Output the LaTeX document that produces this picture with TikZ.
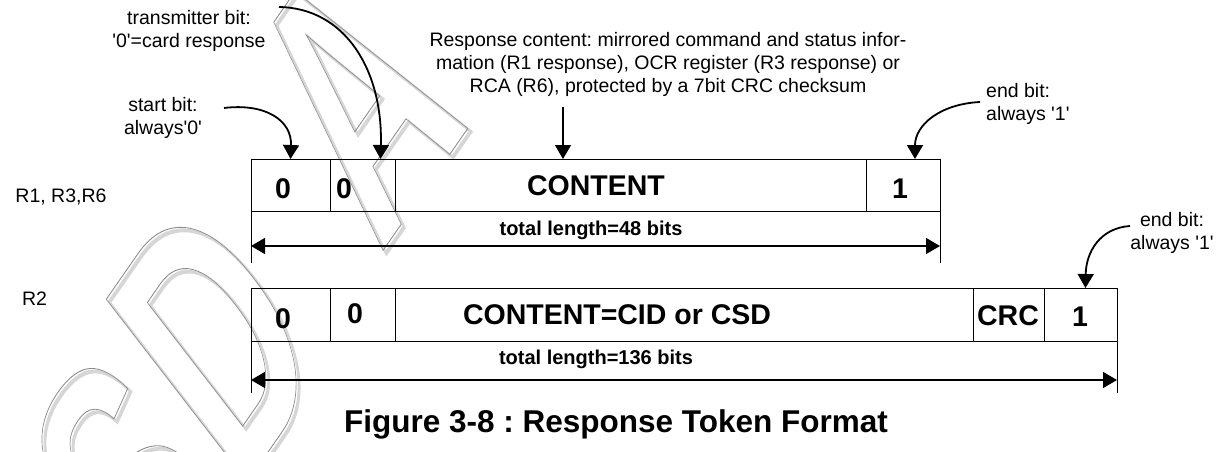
\documentclass[tikz,border=0pt]{standalone}
\usepackage{fontspec}
\setmainfont{Liberation Sans}
\usetikzlibrary{arrows.meta,positioning}
\frenchspacing

% stroked (outline) glyphs for the watermark
\newcommand{\outlined}[2]{\special{pdf:literal direct 1 Tr #1 w}#2\special{pdf:literal direct 0 Tr}}

\tikzset{
  lbl/.style={font=\fontsize{19.5}{23}\selectfont, inner sep=0pt, align=center},
  bitbox/.style={draw, line width=1pt, minimum height=52pt, inner sep=0pt, outer sep=0pt},
  bittext/.style={font=\fontsize{28.5}{30}\selectfont\bfseries, inner sep=0pt, anchor=base},
  lentext/.style={font=\fontsize{20}{22}\selectfont\bfseries, inner sep=0pt, anchor=base},
  pointer/.style={line width=1.8pt, -{Triangle[length=14pt,width=16pt]}},
  straightptr/.style={line width=1.2pt, -{Triangle[length=14pt,width=16pt]}},
  span/.style={line width=1.2pt, {Triangle[length=14pt,width=16pt]}-{Triangle[length=14pt,width=16pt]}},
  wm/.style={transform shape, cm={0.376,0.541,-0.61,0.79,(0,0)}, inner sep=0pt,
    font=\fontsize{336}{340}\selectfont\bfseries}
}

\begin{document}
\begin{tikzpicture}[x=1pt, y=-1pt]
\useasboundingbox (0,0) rectangle (1232,452);

% watermark
\node[wm, text=black!16] (wmshS) at (133,490) {\outlined{4}{S}};
\node[wm, text=black!16] (wmshD) at (217,340) {\outlined{4}{D}};
\node[wm, text=black!16] (wmshA) at (358,101) {\outlined{4}{A}};
\node[wm, text=black!45] (wmS) at (130,487) {\outlined{0.9}{S}};
\node[wm, text=black!45] (wmD) at (214,337) {\outlined{0.9}{D}};
\node[wm, text=black!45] (wmA) at (355,98) {\outlined{0.9}{A}};

% row names
\node[lbl, anchor=base] (rowa) at (61,202) {R1, R3,R6};
\node[lbl, anchor=base] (rowb) at (34.5,305) {R2};

% R1, R3, R6 token
\node[bitbox, minimum width=79pt, anchor=north west] (a1) at (251,159) {};
\node[bitbox, minimum width=65pt, right=0pt of a1] (a2) {};
\node[bitbox, minimum width=471pt, right=0pt of a2] (a3) {};
\node[bitbox, minimum width=74pt, right=0pt of a3] (a4) {};
\node[bittext] (a1t) at (283,198) {0};
\node[bittext] (a2t) at (344,198) {0};
\node[bittext] (a3t) at (596,195) {CONTENT};
\node[bittext] (a4t) at (900,198) {1};
\draw[line width=1pt] (a1.south west) -- ++(0,52);
\draw[line width=1pt] (a4.south east) -- ++(0,52);
\coordinate (a-l) at (251,246);
\coordinate (a-r) at (940,246);
\draw[span] (a-l) -- (a-r);
\node[lentext] (alen) at (591,235) {total length=48 bits};

% R2 token
\node[bitbox, minimum height=53pt, minimum width=79pt, anchor=north west] (b1) at (251,288) {};
\node[bitbox, minimum height=53pt, minimum width=65pt, right=0pt of b1] (b2) {};
\node[bitbox, minimum height=53pt, minimum width=578pt, right=0pt of b2] (b3) {};
\node[bitbox, minimum height=53pt, minimum width=71pt, right=0pt of b3] (b4) {};
\node[bitbox, minimum height=53pt, minimum width=73pt, right=0pt of b4] (b5) {};
\node[bittext] (b1t) at (283,328) {0};
\node[bittext] (b2t) at (355,323) {0};
\node[bittext] (b3t) at (617,324) {CONTENT=CID or CSD};
\node[bittext] (b4t) at (1008,325) {CRC};
\node[bittext] (b5t) at (1080,326) {1};
\draw[line width=1pt] (b1.south west) -- ++(0,52);
\draw[line width=1pt] (b5.south east) -- ++(0,52);
\coordinate (b-l) at (251,380);
\coordinate (b-r) at (1117,380);
\draw[span] (b-l) -- (b-r);
\node[lentext] (blen) at (596,364) {total length=136 bits};

% callouts
\node[lbl] (trans) at (189,31) {transmitter bit:\\\textquotesingle 0\textquotesingle=card response};
\node[lbl] (start) at (163,118) {start bit:\\always\textquotesingle 0\textquotesingle};
\node[lbl] (resp) at (668,64) {Response content: mirrored command and status infor-\\mation (R1 response), OCR register (R3 response) or\\RCA (R6), protected by a 7bit CRC checksum};
\node[lbl, align=left, anchor=west] (enda) at (986,104) {end bit:\\always \textquotesingle 1\textquotesingle};
\node[lbl] (endb) at (1172,233) {end bit:\\always \textquotesingle 1\textquotesingle};

\coordinate (start-from) at (224,108);
\draw[pointer] (start-from) .. controls (265,103) and (292,120) .. (a1.north);
\coordinate (trans-from) at (279,7);
\draw[pointer] (trans-from) .. controls (345,8) and (383,70) .. ([xshift=18pt]a2.north);
\coordinate (resp-from) at (563,107);
\draw[straightptr] (resp-from) -- (resp-from |- a3.north);
\coordinate (enda-from) at (980,102);
\draw[pointer] (enda-from) .. controls (940,104) and (915,125) .. ([xshift=12pt]a4.north);
\coordinate (endb-from) at (1130,226);
\draw[pointer] (endb-from) .. controls (1100,228) and (1086,252) .. ([xshift=5pt]b5.north);

\node[font=\fontsize{31.5}{34}\selectfont\bfseries, inner sep=0pt, anchor=base] (title) at (616,432) {Figure 3-8 : Response Token Format};
\end{tikzpicture}
\end{document}
